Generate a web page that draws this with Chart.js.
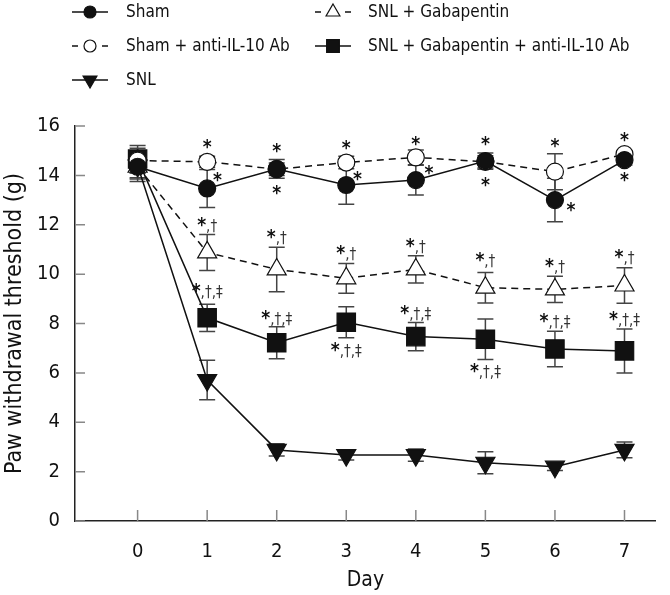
<!DOCTYPE html>
<html>
<head>
<meta charset="utf-8">
<script src="https://cdn.jsdelivr.net/npm/chart.js@4.4.1/dist/chart.umd.min.js"></script>
<style>
  html, body { margin: 0; padding: 0; background: #fff; }
  #grafico { display: block; }
</style>
</head>
<body>
<canvas id="grafico" width="670" height="595"></canvas>
<script>
// Datos
const days = [0, 1, 2, 3, 4, 5, 6, 7];
const yTicks = [0, 2, 4, 6, 8, 10, 12, 14, 16];

const sham = [14.35, 13.47, 14.26, 13.61, 13.81, 14.58, 13.0, 14.62];
const shamSem = [0.5, 0.77, 0.38, 0.78, 0.6, 0.33, 0.88, 0.2];
const shamAb = [14.6, 14.55, 14.25, 14.52, 14.73, 14.55, 14.15, 14.86];
const shamAbSem = [0.5, 0.22, 0.25, 0.25, 0.3, 0.25, 0.73, 0.15];
const snl = [14.4, 5.71, 2.88, 2.67, 2.67, 2.36, 2.2, 2.88];
const snlSem = [0.5, 0.8, 0.25, 0.2, 0.25, 0.45, 0.15, 0.32];
const snlGaba = [14.35, 10.88, 10.19, 9.83, 10.19, 9.45, 9.38, 9.54];
const snlGabaSem = [0.6, 0.73, 0.9, 0.6, 0.55, 0.62, 0.53, 0.72];
const snlGabaAb = [14.66, 8.23, 7.22, 8.05, 7.47, 7.36, 6.97, 6.89];
const snlGabaAbSem = [0.55, 0.55, 0.65, 0.63, 0.57, 0.82, 0.72, 0.89];

// marcas de significancia: [día, valor, texto]
const marcas = [
  [1, 15.27, '*'], [2, 15.09, '*'], [3, 15.23, '*'], [4, 15.4, '*'], [5, 15.4, '*'], [6, 15.32, '*'], [7, 15.54, '*'],
  [1.15, 13.94, '*'], [2, 13.4, '*'], [3.16, 13.97, '*'], [4.19, 14.22, '*'], [5, 13.74, '*'], [6.23, 12.7, '*'], [7, 13.92, '*'],
  [1, 11.99, '*,†'], [2, 11.49, '*,†'], [3, 10.87, '*,†'], [4, 11.14, '*,†'], [5, 10.57, '*,†'], [6, 10.33, '*,†'], [7, 10.7, '*,†'],
  [1, 9.3, '*,†,‡'], [2, 8.23, '*,†,‡'], [3, 6.93, '*,†,‡'], [4, 8.44, '*,†,‡'], [5, 6.09, '*,†,‡'], [6, 8.1, '*,†,‡'], [7, 8.17, '*,†,‡']
];

const fuente = "'Liberation Sans Narrow', 'DejaVu Sans Condensed', sans-serif";
const negro = '#111';

const puntos = (valores) => days.map((d, i) => ({ x: d, y: valores[i] }));

// serie: etiqueta, valores, sem, estilo
const series = [
  { label: 'Sham', data: sham, sem: shamSem, estilo: 'circle', relleno: negro, radio: 8.5, rot: 0, dash: [], orden: 0, col: 0, fila: 0, rLeyenda: 6 },
  { label: 'Sham + anti-IL-10 Ab', data: shamAb, sem: shamAbSem, estilo: 'circle', relleno: '#fff', radio: 8.5, rot: 0, dash: [7, 5], orden: 1, col: 0, fila: 1, rLeyenda: 6 },
  { label: 'SNL', data: snl, sem: snlSem, estilo: 'triangle', relleno: negro, radio: 11, rot: 180, dash: [], orden: 4, col: 0, fila: 2, rLeyenda: 8 },
  { label: 'SNL + Gabapentin', data: snlGaba, sem: snlGabaSem, estilo: 'triangle', relleno: '#fff', radio: 11, rot: 0, dash: [7, 5], orden: 3, col: 1, fila: 0, rLeyenda: 8 },
  { label: 'SNL + Gabapentin + anti-IL-10 Ab', data: snlGabaAb, sem: snlGabaAbSem, estilo: 'rect', relleno: negro, radio: 13, rot: 0, dash: [], orden: 2, col: 1, fila: 1, rLeyenda: 9 }
];

/**
 * Barras de error (SEM) dibujadas con las escalas del gráfico
 */
const barrasError = {
  id: 'barrasError',
  beforeDatasetsDraw(chart) {
    const ctx = chart.ctx;
    const y = chart.scales.y;
    ctx.save();
    ctx.strokeStyle = '#444';
    ctx.lineWidth = 1.5;
    chart.data.datasets.forEach((ds, i) => {
      const meta = chart.getDatasetMeta(i);
      meta.data.forEach((p, j) => {
        const v = ds.data[j].y;
        const e = ds.sem[j];
        const top = y.getPixelForValue(v + e);
        const bot = y.getPixelForValue(v - e);
        ctx.beginPath();
        ctx.moveTo(p.x, top); ctx.lineTo(p.x, bot);
        ctx.moveTo(p.x - 8, top); ctx.lineTo(p.x + 8, top);
        ctx.moveTo(p.x - 8, bot); ctx.lineTo(p.x + 8, bot);
        ctx.stroke();
      });
    });
    ctx.restore();
  }
};

/**
 * Marcas de los ejes hacia dentro
 */
const marcasEjes = {
  id: 'marcasEjes',
  beforeDatasetsDraw(chart) {
    const ctx = chart.ctx;
    const { x, y } = chart.scales;
    const area = chart.chartArea;
    ctx.save();
    ctx.strokeStyle = '#888';
    ctx.lineWidth = 1.5;
    ctx.beginPath();
    yTicks.forEach(v => {
      const py = y.getPixelForValue(v);
      ctx.moveTo(area.left, py); ctx.lineTo(area.left + 10, py);
    });
    days.forEach(d => {
      const px = x.getPixelForValue(d);
      ctx.moveTo(px, area.bottom); ctx.lineTo(px, area.bottom - 11);
    });
    ctx.stroke();
    ctx.restore();
  }
};

/**
 * Textos de significancia (*, †, ‡)
 */
const significancia = {
  id: 'significancia',
  afterDatasetsDraw(chart) {
    const ctx = chart.ctx;
    const { x, y } = chart.scales;
    ctx.save();
    ctx.fillStyle = negro;
    ctx.textBaseline = 'alphabetic';
    marcas.forEach(([d, v, txt]) => {
      const px = x.getPixelForValue(d);
      const py = y.getPixelForValue(v);
      const estrella = txt[0];
      const resto = txt.slice(1);
      ctx.font = `bold 19px ${fuente}`;
      const m1 = ctx.measureText(estrella);
      ctx.font = `15px ${fuente}`;
      const m2 = ctx.measureText(resto || ' ');
      const ancho = m1.width + (resto ? m2.width : 0);
      const asc = Math.max(m1.actualBoundingBoxAscent, resto ? m2.actualBoundingBoxAscent : 0);
      const desc = resto ? Math.max(m1.actualBoundingBoxDescent, m2.actualBoundingBoxDescent) : m1.actualBoundingBoxDescent;
      const base = py + (asc - desc) / 2;
      let x0 = px - ancho / 2;
      ctx.font = `bold 19px ${fuente}`;
      ctx.fillText(estrella, x0, base);
      if (resto) {
        ctx.font = `15px ${fuente}`;
        ctx.fillStyle = '#333';
        ctx.fillText(resto, x0 + m1.width, base);
        ctx.fillStyle = negro;
      }
    });
    ctx.restore();
  }
};

/**
 * Leyenda en dos columnas
 */
const leyenda = {
  id: 'leyenda',
  afterDraw(chart) {
    const ctx = chart.ctx;
    const colX = [72, 315];
    const textoX = [126, 368];
    const filaY = [12, 46, 80];
    ctx.save();
    series.forEach(s => {
      const x0 = colX[s.col];
      const cy = filaY[s.fila];
      ctx.strokeStyle = negro;
      ctx.lineWidth = 1.5;
      ctx.beginPath();
      if (s.dash.length) {
        ctx.moveTo(x0, cy); ctx.lineTo(x0 + 6, cy);
        ctx.moveTo(x0 + 30, cy); ctx.lineTo(x0 + 36, cy);
      } else {
        ctx.moveTo(x0, cy); ctx.lineTo(x0 + 36, cy);
      }
      ctx.stroke();
      ctx.fillStyle = s.relleno;
      ctx.lineWidth = 1.2;
      Chart.helpers.drawPoint(ctx, { pointStyle: s.estilo, radius: s.rLeyenda, rotation: s.rot, borderWidth: 1.2 }, x0 + 18, cy);
      ctx.fillStyle = negro;
      ctx.font = `17px ${fuente}`;
      ctx.textBaseline = 'middle';
      ctx.fillText(s.label, textoX[s.col], cy + 1);
    });
    ctx.restore();
  }
};

const ctxGrafico = document.getElementById('grafico').getContext('2d');

new Chart(ctxGrafico, {
  type: 'line',
  data: {
    datasets: series.map(s => ({
      label: s.label,
      data: puntos(s.data),
      sem: s.sem,
      order: s.orden,
      borderColor: negro,
      borderWidth: 1.5,
      borderDash: s.dash,
      tension: 0,
      pointStyle: s.estilo,
      pointRotation: s.rot,
      pointRadius: s.radio,
      pointBackgroundColor: s.relleno,
      pointBorderColor: negro,
      pointBorderWidth: 1.2
    }))
  },
  options: {
    responsive: false,
    animation: false,
    devicePixelRatio: 1,
    layout: { padding: { top: 126, right: 0, left: 0, bottom: 0 } },
    plugins: {
      legend: { display: false },
      tooltip: { enabled: false }
    },
    scales: {
      x: {
        type: 'linear',
        min: -0.9,
        max: 7.45,
        afterBuildTicks: s => { s.ticks = days.map(v => ({ value: v })); },
        afterFit: s => { s.height = 74; },
        grid: { display: false, drawTicks: false },
        border: { display: true, color: '#222', width: 1.5 },
        ticks: { padding: 19, color: negro, font: { family: fuente, size: 20 } },
        title: { display: true, text: 'Day', color: negro, font: { family: fuente, size: 21 }, padding: { top: 0, bottom: 2 } }
      },
      y: {
        min: 0,
        max: 16,
        afterBuildTicks: s => { s.ticks = yTicks.map(v => ({ value: v })); },
        afterFit: s => { s.width = 75; },
        grid: { display: false, drawTicks: false },
        border: { display: true, color: '#222', width: 1.5 },
        ticks: { padding: 15, color: negro, font: { family: fuente, size: 20 } },
        title: { display: true, text: 'Paw withdrawal threshold (g)', color: negro, font: { family: fuente, size: 23 }, padding: { top: 1, bottom: 0 } }
      }
    }
  },
  plugins: [marcasEjes, barrasError, significancia, leyenda]
});
</script>
</body>
</html>
